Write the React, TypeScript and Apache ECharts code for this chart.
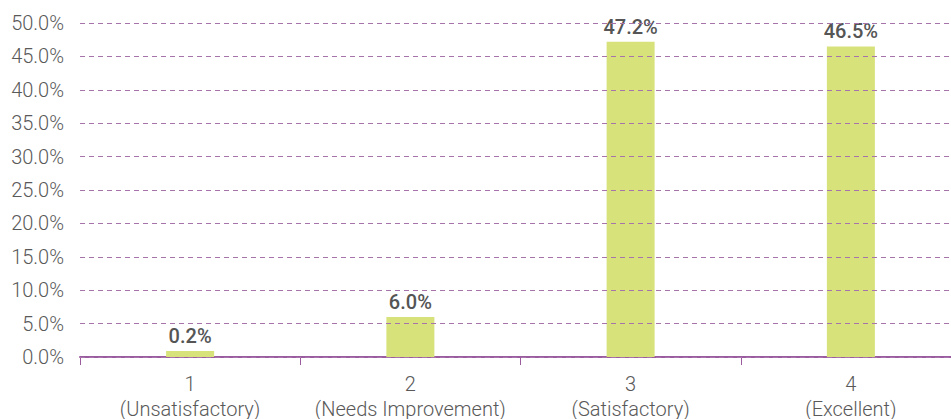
import React, { useEffect, useRef } from "react";
import * as echarts from "echarts";

const categories = ["1\n(Unsatisfactory)", "2\n(Needs Improvement)", "3\n(Satisfactory)", "4\n(Excellent)"];
const values = [0.2, 6.0, 47.2, 46.5];
const yTicks = { min: 0, max: 50, interval: 5 };

export default function App() {
  const ref = useRef<HTMLDivElement>(null);
  useEffect(() => {
    const chart = echarts.init(ref.current!, null, { renderer: "svg" });
    chart.setOption({
      animation: false,
      grid: { left: 80, width: 881, top: 23, height: 334, containLabel: false, outerBoundsMode: "none" },
      xAxis: {
        type: "category",
        data: categories,
        axisLine: { lineStyle: { color: "#9a5c9f", width: 2 } },
        axisTick: { show: true, interval: 0, length: 8, lineStyle: { color: "#9a5c9f", width: 1 } },
        axisLabel: { interval: 0, hideOverlap: false, color: "#595959", fontSize: 20, fontFamily: "Roboto", fontWeight: 300, lineHeight: 25, margin: 14 },
      },
      yAxis: {
        type: "value",
        min: yTicks.min,
        max: yTicks.max,
        interval: yTicks.interval,
        z: 3,
        axisLine: { show: false },
        axisTick: { show: false },
        axisLabel: { color: "#595959", fontSize: 20, fontFamily: "Roboto", fontWeight: 300, margin: 16, formatter: (v: number) => v.toFixed(1) + "%" },
        splitLine: { lineStyle: { color: "#a673ab", type: [5, 4], width: 1 } },
      },
      series: [
        {
          type: "bar",
          data: values,
          barWidth: 48,
          barMinHeight: 6,
          itemStyle: { color: "#d8e27a" },
          label: {
            show: true,
            position: "top",
            distance: 5,
            color: "#555",
            fontSize: 20,
            fontWeight: 500,
            fontFamily: "Roboto",
            formatter: (p: any) => p.value.toFixed(1) + "%",
          },
        },
      ],
    });
    return () => chart.dispose();
  }, []);
  return <div ref={ref} style={{ width: 951, height: 419, position: "absolute", left: 0, top: 0 }} />;
}
